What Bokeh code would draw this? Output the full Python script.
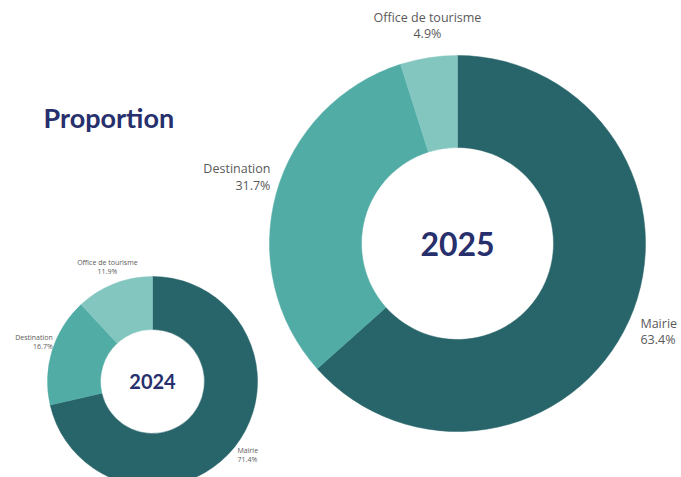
import math
from bokeh.plotting import figure
from bokeh.models import Range1d, ColumnDataSource
from bokeh.core.properties import value
from bokeh.embed import file_html
from bokeh.resources import INLINE

# ---- data ----
categories = ["Mairie", "Destination", "Office de tourisme"]
share_2025 = [63.4, 31.7, 4.9]
share_2024 = [71.4, 16.7, 11.9]
years = ["2025", "2024"]
colors = ["#28656a", "#52aca6", "#83c6c0"]
title_text = "Proportion"

NAVY = "#27306d"
LABEL = "#5a5a5a"

W, H = 681, 477
p = figure(width=W, height=H, output_backend="svg", toolbar_location=None,
           x_range=Range1d(0, W), y_range=Range1d(0, H),
           min_border=0)
p.axis.visible = False
p.grid.visible = False
p.outline_line_color = None
p.background_fill_color = "white"
p.border_fill_color = "white"


def donut(cx, cy, r_out, r_in, shares, year, year_size, label_size, label_spots):
    cum = 0.0
    starts, ends = [], []
    total = sum(shares)
    for s in shares:
        starts.append(math.pi / 2 - 2 * math.pi * cum / total)
        cum += s
        ends.append(math.pi / 2 - 2 * math.pi * cum / total)
    src = ColumnDataSource(dict(start=starts, end=ends, color=colors,
                                cat=categories, val=shares))
    p.annular_wedge(x=cx, y=cy, inner_radius=r_in, outer_radius=r_out,
                    start_angle="start", end_angle="end", direction="clock",
                    fill_color="color", line_color="color", line_width=0.5,
                    source=src)
    p.text(x=[cx], y=[cy], text=[year], text_font=value("Lato"),
           text_font_style="bold", text_font_size=f"{year_size}px",
           text_color=NAVY, text_align="center", text_baseline="middle")
    line_gap = label_size * 1.3
    for cat, v, (dx, dy, align) in zip(categories, shares, label_spots):
        lx = cx + dx * r_out
        ly = cy + dy * r_out
        p.text(x=[lx, lx], y=[ly + line_gap / 2, ly - line_gap / 2],
               text=[cat, f"{v:.1f}%"], text_font=value("Open Sans"),
               text_font_size=f"{label_size}px", text_color=LABEL,
               text_align=align, text_baseline="middle")


# big donut (2025): centre in screen px (457, 243)
donut(457, H - 243, 188, 96, share_2025, years[0], 32, 12.5,
      [(0.973, -0.47, "left"), (-0.995, 0.354, "right"), (-0.16, 1.16, "center")])

# small donut (2024): centre in screen px (152, 381)
donut(152, H - 381, 105, 52, share_2024, years[1], 20, 7,
      [(0.81, -0.70, "left"), (-0.95, 0.376, "right"), (-0.43, 1.09, "center")])

p.text(x=[43], y=[H - 117], text=[title_text], text_font=value("Lato"),
       text_font_style="bold", text_font_size="27px", text_color=NAVY,
       text_align="left", text_baseline="middle")

open("out.html", "w").write(file_html(p, INLINE))
